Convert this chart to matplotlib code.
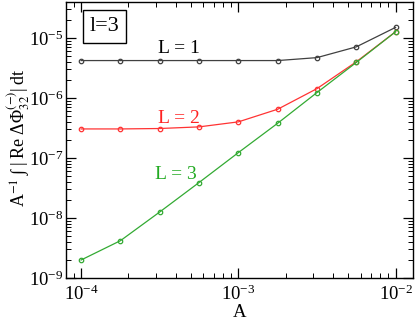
import matplotlib
matplotlib.use("Agg")
import matplotlib.pyplot as plt
from matplotlib.ticker import LogLocator, NullFormatter

plt.rcParams['font.family'] = ['Liberation Serif', 'DejaVu Serif']
plt.rcParams['mathtext.fontset'] = 'stix'

A = [1e-4, 1.78e-4, 3.16e-4, 5.62e-4, 1e-3, 1.78e-3, 3.16e-3, 5.62e-3, 1e-2]
L1 = [4.2e-6, 4.2e-6, 4.2e-6, 4.2e-6, 4.2e-6, 4.2e-6, 4.7e-6, 7.1e-6, 1.5e-5]
L2 = [3.05e-7, 3.05e-7, 3.1e-7, 3.3e-7, 4.0e-7, 6.5e-7, 1.43e-6, 4.0e-6, 1.27e-5]
L3 = [2.0e-9, 4.2e-9, 1.26e-8, 3.9e-8, 1.23e-7, 3.8e-7, 1.23e-6, 3.9e-6, 1.27e-5]

fig = plt.figure(figsize=(4.15, 3.2), dpi=100)
ax = fig.add_axes([0.159, 0.131, 0.836, 0.863])

kw = dict(marker='o', markersize=3.2, markerfacecolor='none', linewidth=0.9, markeredgewidth=0.9)
ax.plot(A, L1, color='#404040', **kw)
ax.plot(A, L2, color='#ff3333', **kw)
ax.plot(A, L3, color='#33aa33', **kw)

ax.set_xscale('log')
ax.set_yscale('log')
ax.set_xlim(10**-4.096, 10**-1.89)
ax.set_ylim(1e-9, 10**-4.4)

ax.xaxis.set_major_locator(LogLocator(base=10, numticks=10))
ax.yaxis.set_major_locator(LogLocator(base=10, numticks=10))
ax.xaxis.set_minor_locator(LogLocator(base=10, subs=range(2, 10), numticks=10))
ax.yaxis.set_minor_locator(LogLocator(base=10, subs=range(2, 10), numticks=10))
ax.xaxis.set_minor_formatter(NullFormatter())
ax.yaxis.set_minor_formatter(NullFormatter())

ax.tick_params(which='both', direction='in', top=True, right=True, labelsize=13.5)
ax.tick_params(which='major', length=7, width=0.9)
ax.tick_params(which='minor', length=3.5, width=0.7)
ax.tick_params(axis='x', which='major', pad=4.5)
ax.tick_params(axis='y', which='major', pad=2)
for s in ax.spines.values():
    s.set_linewidth(1.0)

ax.set_xlabel('A', fontsize=13.5, va='top')
ax.xaxis.set_label_coords(0.5, -0.093)
ax.set_ylabel('A$^{-1}$\u2009\u222b\u2009|\u2009Re \u0394\u03a6$^{(-)}_{32}$|\u2009dt', fontsize=13)
ax.yaxis.set_label_coords(-0.098, 0.51)

ax.text(0.111, 0.911, 'l=3', transform=ax.transAxes, fontsize=16, ha='center', va='center',
        bbox=dict(boxstyle='square,pad=0.3', facecolor='white', edgecolor='black', linewidth=1.0))
ax.text(4.2e-4, 5.6e-6, 'L = 1', color='black', fontsize=14, ha='center', va='baseline')
ax.text(4.2e-4, 3.8e-7, 'L = 2', color='#ff2222', fontsize=14, ha='center', va='baseline')
ax.text(4.0e-4, 4.4e-8, 'L = 3', color='#22aa22', fontsize=14, ha='center', va='baseline')

fig.savefig('out.png', dpi=100)
